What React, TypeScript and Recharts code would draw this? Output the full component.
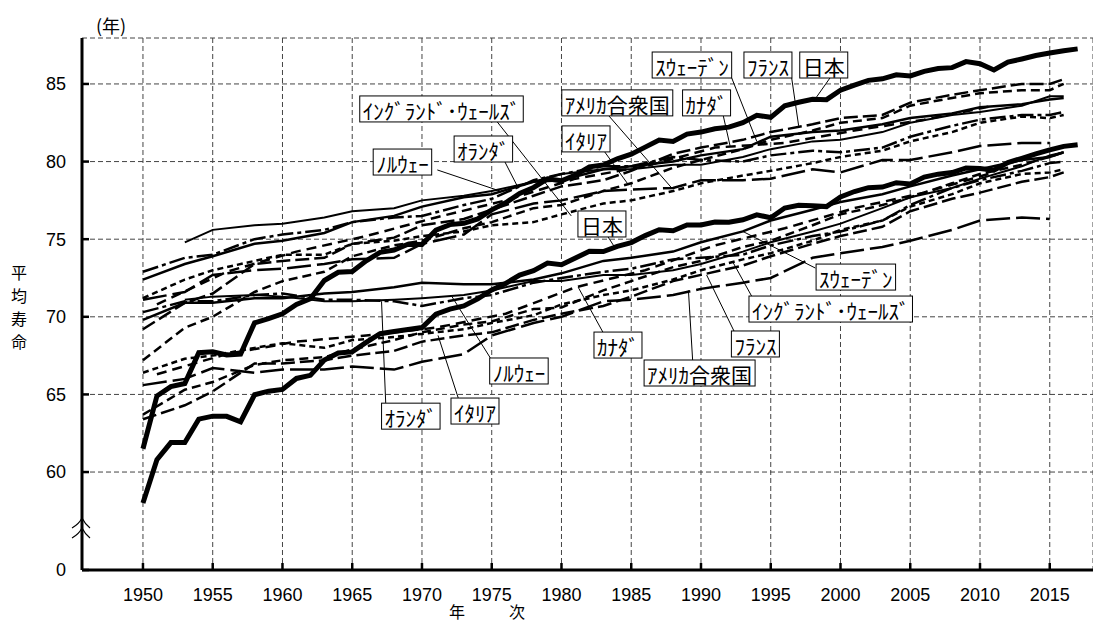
import React from "react";
import { CartesianGrid, Line, LineChart, ReferenceDot, ReferenceLine, XAxis, YAxis } from "recharts";

// 日本: annual values 1950-2017
const jpYears = Array.from({ length: 68 }, (_, i) => 1950 + i);
const jpMale = [
  58.0, 60.8, 61.9, 61.9, 63.41, 63.6, 63.59, 63.24, 64.98, 65.21,
  65.32, 66.03, 66.23, 67.21, 67.67, 67.74, 68.35, 68.91, 69.05, 69.18,
  69.31, 70.17, 70.5, 70.7, 71.16, 71.73, 72.15, 72.69, 72.97, 73.46,
  73.35, 73.79, 74.22, 74.2, 74.54, 74.78, 75.23, 75.61, 75.54, 75.91,
  75.92, 76.11, 76.09, 76.25, 76.57, 76.38, 77.01, 77.19, 77.16, 77.1,
  77.72, 78.07, 78.32, 78.36, 78.64, 78.56, 79.0, 79.19, 79.29, 79.59,
  79.55, 79.44, 79.94, 80.21, 80.5, 80.75, 80.98, 81.09,
];
const jpFemale = [
  61.5, 64.9, 65.5, 65.7, 67.69, 67.75, 67.54, 67.6, 69.61, 69.88,
  70.19, 70.79, 71.16, 72.34, 72.87, 72.92, 73.61, 74.15, 74.3, 74.67,
  74.66, 75.58, 75.94, 76.02, 76.31, 76.89, 77.35, 77.95, 78.33, 78.89,
  78.76, 79.13, 79.66, 79.78, 80.18, 80.48, 80.93, 81.39, 81.3, 81.77,
  81.9, 82.11, 82.22, 82.51, 82.98, 82.85, 83.59, 83.82, 84.01, 83.99,
  84.6, 84.93, 85.23, 85.33, 85.59, 85.52, 85.81, 85.99, 86.05, 86.44,
  86.3, 85.9, 86.41, 86.61, 86.83, 86.99, 87.14, 87.26,
];

// other countries, read at these years
const obsYears = [
  1950, 1953, 1955, 1958, 1960, 1963, 1965, 1968, 1970, 1973, 1975, 1978, 1980, 1983,
  1985, 1988, 1990, 1993, 1995, 1998, 2000, 2003, 2005, 2008, 2010, 2013, 2015, 2016,
];
const canadaYears = [1951, 1956, 1961, 1966, 1971, 1976, 1981, 1986, 1991, 1996, 2001, 2006, 2011];

const swedenF = [72.4, 73.4, 73.9, 74.7, 74.9, 75.4, 76.1, 76.5, 77.1, 77.7, 77.9, 78.7, 78.8, 79.5, 79.7, 80.0, 80.4, 80.8, 81.6, 81.9, 82.0, 82.4, 82.8, 83.1, 83.5, 83.7, 84.0, 84.1];
const franceF = [69.2, 70.9, 71.5, 73.4, 73.6, 73.8, 74.7, 75.1, 75.9, 76.3, 76.9, 77.8, 78.4, 78.8, 79.4, 80.5, 80.9, 81.4, 81.9, 82.4, 82.8, 83.0, 83.8, 84.3, 84.6, 85.0, 85.0, 85.3];
const englandF = [71.2, 72.4, 73.0, 73.6, 74.0, 74.0, 74.7, 74.9, 75.2, 75.5, 75.9, 76.1, 76.6, 77.3, 77.5, 78.1, 78.6, 79.1, 79.4, 79.9, 80.3, 80.7, 81.3, 81.9, 82.5, 82.9, 82.8, 83.0];
const usaF = [71.1, 71.6, 72.7, 73.0, 73.1, 73.4, 73.7, 73.8, 74.7, 75.3, 76.6, 77.3, 77.5, 78.1, 78.2, 78.3, 78.8, 78.8, 78.9, 79.5, 79.3, 80.1, 80.1, 80.6, 81.0, 81.2, 81.2, null];
const netherlandsF = [72.9, 73.8, 74.0, 75.0, 75.3, 75.6, 76.1, 76.4, 76.5, 77.2, 77.6, 78.8, 79.2, 79.7, 79.7, 80.3, 80.1, 80.0, 80.4, 80.7, 80.6, 80.9, 81.6, 82.3, 82.7, 83.0, 83.0, 83.2];
const norwayF = [null, 74.8, 75.6, 75.9, 76.0, 76.4, 76.8, 77.0, 77.5, 77.8, 78.1, 78.7, 79.2, 79.5, 79.5, 79.8, 79.8, 80.3, 80.8, 81.3, 81.4, 81.9, 82.5, 83.0, 83.2, 83.6, 84.2, 84.2];
const italyF = [67.2, 69.3, 70.0, 71.6, 72.3, 72.9, 73.9, 74.6, 74.9, 75.7, 76.1, 77.0, 77.2, 78.1, 78.6, 79.6, 80.1, 80.8, 81.4, 82.0, 82.5, 82.8, 83.6, 84.1, 84.4, 84.6, 84.6, 85.0];
const canadaF = [70.8, 72.9, 74.2, 75.2, 76.4, 77.5, 78.9, 79.7, 80.9, 81.2, 82.0, 82.7, 83.6];

const swedenM = [69.8, 70.9, 70.9, 71.2, 71.2, 71.5, 71.6, 71.9, 72.2, 72.1, 72.1, 72.4, 72.8, 73.6, 73.8, 74.2, 74.8, 75.5, 76.2, 76.9, 77.4, 77.9, 78.4, 79.1, 79.5, 80.1, 80.3, 80.6];
const norwayM = [null, 71.1, 71.3, 71.4, 71.3, 71.0, 71.0, 71.1, 71.2, 71.4, 71.7, 72.3, 72.3, 72.7, 72.7, 73.0, 73.4, 74.2, 74.8, 75.5, 76.0, 77.0, 77.7, 78.3, 78.9, 79.7, 80.4, 80.6];
const netherlandsM = [70.3, 71.0, 71.0, 71.4, 71.5, 71.1, 71.1, 71.0, 70.7, 71.2, 71.4, 72.2, 72.5, 72.9, 73.1, 73.7, 73.8, 74.0, 74.6, 75.2, 75.5, 76.2, 77.2, 78.3, 78.8, 79.4, 79.9, 80.0];
const englandM = [66.4, 67.3, 67.5, 68.0, 68.3, 68.0, 68.5, 68.7, 68.9, 69.2, 69.6, 70.1, 70.8, 71.4, 71.7, 72.4, 73.0, 73.7, 74.1, 74.9, 75.6, 76.2, 77.1, 77.9, 78.6, 79.2, 79.3, 79.5];
const usaM = [65.6, 66.0, 66.7, 66.4, 66.6, 66.6, 66.8, 66.6, 67.1, 67.6, 68.8, 69.6, 70.0, 71.0, 71.1, 71.4, 71.8, 72.2, 72.5, 73.8, 74.1, 74.5, 74.9, 75.6, 76.2, 76.4, 76.3, null];
const franceM = [63.4, 64.3, 65.2, 67.0, 67.0, 67.2, 67.5, 67.8, 68.4, 68.8, 69.0, 69.8, 70.2, 70.7, 71.3, 72.3, 72.7, 73.3, 73.9, 74.7, 75.2, 75.8, 76.8, 77.6, 78.0, 78.7, 79.0, 79.3];
const italyM = [63.7, 65.3, 65.8, 66.9, 67.2, 67.4, 67.9, 68.5, 69.0, 69.5, 69.7, 70.5, 70.6, 71.7, 72.3, 73.2, 73.6, 74.5, 74.9, 75.9, 76.6, 77.2, 77.7, 78.6, 79.2, 79.8, 80.3, 80.6];
const canadaM = [66.3, 67.6, 68.4, 68.8, 69.3, 70.2, 71.9, 73.0, 74.6, 75.7, 77.0, 78.0, 79.3];

const xTicks = [1950, 1955, 1960, 1965, 1970, 1975, 1980, 1985, 1990, 1995, 2000, 2005, 2010, 2015];
const yBreak = 53.69; // shown as "0"
const yTicks = [yBreak, 60, 65, 70, 75, 80, 85];

const series = [
  { key: "jpF", years: jpYears, values: jpFemale, dash: undefined, width: 5 },
  { key: "jpM", years: jpYears, values: jpMale, dash: undefined, width: 5 },
  { key: "seF", years: obsYears, values: swedenF, dash: undefined, width: 2.5 },
  { key: "seM", years: obsYears, values: swedenM, dash: undefined, width: 2.5 },
  { key: "noF", years: obsYears, values: norwayF, dash: undefined, width: 2 },
  { key: "noM", years: obsYears, values: norwayM, dash: undefined, width: 2 },
  { key: "usF", years: obsYears, values: usaF, dash: "24 6", width: 2.5 },
  { key: "usM", years: obsYears, values: usaM, dash: "24 6", width: 2.5 },
  { key: "frF", years: obsYears, values: franceF, dash: "14 5", width: 2.5 },
  { key: "frM", years: obsYears, values: franceM, dash: "14 5", width: 2.5 },
  { key: "caF", years: canadaYears, values: canadaF, dash: "10 6", width: 2.5 },
  { key: "caM", years: canadaYears, values: canadaM, dash: "10 6", width: 2.5 },
  { key: "enF", years: obsYears, values: englandF, dash: "6 4", width: 2.5 },
  { key: "enM", years: obsYears, values: englandM, dash: "6 4", width: 2.5 },
  { key: "itF", years: obsYears, values: italyF, dash: "9 5", width: 2.5 },
  { key: "itM", years: obsYears, values: italyM, dash: "9 5", width: 2.5 },
  { key: "nlF", years: obsYears, values: netherlandsF, dash: "16 4 4 4", width: 2.5 },
  { key: "nlM", years: obsYears, values: netherlandsM, dash: "16 4 4 4", width: 2.5 },
];

// callouts: box centre and leader line, in data units
const callouts = [
  { text: "ｽｳｪｰﾃﾞﾝ", x: 1989.35, y: 86.22, from: [1992.2, 85.39], to: [1994.0, 81.3] },
  { text: "ﾌﾗﾝｽ", x: 1994.8, y: 86.22, from: [1996.5, 85.39], to: [1997.0, 82.3] },
  { text: "日本", x: 1998.8, y: 86.22, from: [1999.25, 85.39], to: [1998.2, 84.05] },
  { text: "ｶﾅﾀﾞ", x: 1990.4, y: 83.78, from: [1991.6, 82.94], to: [1992.1, 80.95] },
  { text: "ｱﾒﾘｶ合衆国", x: 1984.0, y: 83.78, from: [1983.4, 82.94], to: [1987.9, 78.3] },
  { text: "ｲﾀﾘｱ", x: 1981.76, y: 81.46, from: [1983.1, 80.62], to: [1984.8, 78.5] },
  { text: "ｲﾝｸﾞﾗﾝﾄﾞ･ｳｪｰﾙｽﾞ", x: 1971.4, y: 83.39, from: [1975.4, 82.55], to: [1980.7, 76.5] },
  { text: "ｵﾗﾝﾀﾞ", x: 1974.4, y: 80.81, from: [1975.95, 79.97], to: [1976.9, 78.3] },
  { text: "ﾉﾙｳｪｰ", x: 1968.6, y: 79.97, from: [1971.1, 79.46], to: [1975.6, 78.1] },
  { text: "日本", x: 1982.9, y: 75.98, from: [1983.3, 75.2], to: [1983.8, 74.5] },
  { text: "ｽｳｪｰﾃﾞﾝ", x: 2001.1, y: 72.56, from: [1998.2, 73.14], to: [1993.0, 75.5] },
  { text: "ｲﾝｸﾞﾗﾝﾄﾞ･ｳｪｰﾙｽﾞ", x: 1999.3, y: 70.5, from: [1993.65, 71.3], to: [1992.3, 73.5] },
  { text: "ﾌﾗﾝｽ", x: 1993.9, y: 68.25, from: [1992.4, 69.02], to: [1990.4, 72.7] },
  { text: "ｱﾒﾘｶ合衆国", x: 1989.9, y: 66.38, from: [1989.4, 67.22], to: [1989.1, 71.7] },
  { text: "ｶﾅﾀﾞ", x: 1984.05, y: 68.18, from: [1983.0, 68.96], to: [1981.2, 71.9] },
  { text: "ﾉﾙｳｪｰ", x: 1976.95, y: 66.51, from: [1974.9, 67.35], to: [1972.15, 71.3] },
  { text: "ｲﾀﾘｱ", x: 1973.8, y: 63.93, from: [1972.6, 64.77], to: [1971.15, 68.8] },
  { text: "ｵﾗﾝﾀﾞ", x: 1969.2, y: 63.6, from: [1967.4, 64.45], to: [1967.1, 71.0] },
];

const rowsByYear: Record<number, any> = {};
series.forEach((s) => {
  s.years.forEach((yr, i) => {
    const v = s.values[i];
    if (v == null) return;
    if (!rowsByYear[yr]) rowsByYear[yr] = { year: yr };
    rowsByYear[yr][s.key] = v;
  });
});
const data = Object.values(rowsByYear).sort((a: any, b: any) => a.year - b.year);

const NUM_FONT = "'Liberation Sans', Arial, sans-serif";
const JP_FONT = "'Noto Sans CJK JP', 'Noto Sans', sans-serif";
const LABEL_SIZE = 21;

const textWidth = (t: string) =>
  Array.from(t).reduce((w, c) => {
    const code = c.charCodeAt(0);
    return w + (code >= 0xff61 && code <= 0xff9f ? 0.5 : 1);
  }, 0) * LABEL_SIZE;

const calloutShape = (text: string) => (p: any) => {
  const w = textWidth(text) + 6;
  return (
    <g>
      <rect x={p.cx - w / 2} y={p.cy - 13} width={w} height={26} fill="#fff" stroke="#000" strokeWidth={1} />
      <text
        x={p.cx}
        y={p.cy + 1}
        textAnchor="middle"
        dominantBaseline="central"
        fontSize={LABEL_SIZE}
        fontFamily={JP_FONT}
        fill="#000"
      >
        {text}
      </text>
    </g>
  );
};

const breakMark = (p: any) => (
  <g fill="none" stroke="#000" strokeWidth={1.2}>
    <path d={`M ${p.cx - 10} ${p.cy} Q ${p.cx - 3} ${p.cy - 4} ${p.cx} ${p.cy - 10} Q ${p.cx + 3} ${p.cy - 4} ${p.cx + 8} ${p.cy}`} />
    <path d={`M ${p.cx - 10} ${p.cy + 10} Q ${p.cx - 3} ${p.cy + 6} ${p.cx} ${p.cy} Q ${p.cx + 3} ${p.cy + 6} ${p.cx + 8} ${p.cy + 10}`} />
  </g>
);

export default function App() {
  return (
    <div style={{ position: "absolute", left: 0, top: 0, width: 1093, height: 625, background: "#fff" }}>
      <LineChart width={1093} height={625} data={data} margin={{ top: 38, right: 0, bottom: 0, left: 0 }}>
        <CartesianGrid stroke="#444" strokeDasharray="5 3" />
        <XAxis
          dataKey="year"
          type="number"
          domain={[1945.63, 2018.1]}
          ticks={xTicks}
          interval={0}
          height={55}
          axisLine={{ stroke: "#000", strokeWidth: 3 }}
          tickLine={{ stroke: "#000", strokeWidth: 2.5 }}
          tickSize={-7}
          tickMargin={25}
          tick={{ fontSize: 18, fill: "#000", fontFamily: NUM_FONT }}
        />
        <YAxis
          type="number"
          domain={[yBreak, 87.96]}
          ticks={yTicks}
          interval={0}
          width={82}
          axisLine={{ stroke: "#000", strokeWidth: 3 }}
          tickLine={{ stroke: "#000", strokeWidth: 2.5 }}
          tickSize={-7}
          tickMargin={23}
          tickFormatter={(v: number) => (v < 55 ? "0" : String(v))}
          tick={{ fontSize: 18, fill: "#000", fontFamily: NUM_FONT }}
        />
        {series.map((s) => (
          <Line
            key={s.key}
            dataKey={s.key}
            type="linear"
            stroke="#000"
            strokeWidth={s.width}
            strokeDasharray={s.dash}
            dot={false}
            activeDot={false}
            connectNulls
            isAnimationActive={false}
          />
        ))}
        {callouts.map((c, i) => (
          <ReferenceLine
            key={`l${i}`}
            segment={[
              { x: c.from[0], y: c.from[1] },
              { x: c.to[0], y: c.to[1] },
            ]}
            stroke="#000"
            strokeWidth={1}
          />
        ))}
        {callouts.map((c, i) => (
          <ReferenceDot key={`b${i}`} x={c.x} y={c.y} r={1} ifOverflow="visible" shape={calloutShape(c.text)} />
        ))}
        <ReferenceDot x={1945.63} y={56.39} r={1} ifOverflow="visible" shape={breakMark} />
      </LineChart>
      <svg width={1093} height={625} style={{ position: "absolute", left: 0, top: 0, pointerEvents: "none" }}>
        <text x={111} y={25} textAnchor="middle" dominantBaseline="central" fontSize={18} fontFamily={JP_FONT}>
          (年)
        </text>
        {["平", "均", "寿", "命"].map((ch, i) => (
          <text key={ch} x={19} y={272 + i * 23} textAnchor="middle" dominantBaseline="central" fontSize={16} fontFamily={JP_FONT}>
            {ch}
          </text>
        ))}
        <text x={457} y={611} textAnchor="middle" dominantBaseline="central" fontSize={16} fontFamily={JP_FONT}>
          年
        </text>
        <text x={517} y={611} textAnchor="middle" dominantBaseline="central" fontSize={16} fontFamily={JP_FONT}>
          次
        </text>
      </svg>
    </div>
  );
}
